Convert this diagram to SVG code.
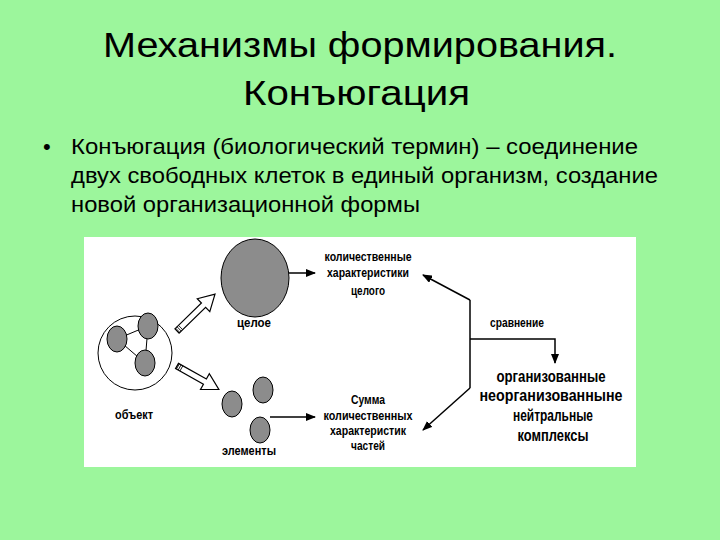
<svg xmlns="http://www.w3.org/2000/svg" width="720" height="540" viewBox="0 0 720 540">
<defs>
<marker id="ah" markerWidth="10" markerHeight="8" refX="9" refY="4" orient="auto" markerUnits="userSpaceOnUse">
<path d="M0,0 L10,4 L0,8 z" fill="#000"/>
</marker>
<style>
.t{font-family:"Liberation Sans",Arial,sans-serif;fill:#000}
.title{font-size:35px}
.body{font-size:22px}
.lbl{font-size:12.5px;font-weight:bold;text-anchor:middle}
.big{font-size:16.5px;font-weight:bold;text-anchor:middle}
.cell{fill:#8c8c8c;stroke:#000;stroke-width:1}
.ln{stroke:#000;stroke-width:1.5;fill:none}
.hol{fill:#fff;stroke:#000;stroke-width:1.2}
</style>
</defs>
<rect x="0" y="0" width="720" height="540" fill="#9cf69c"/>
<g id="title">
<text class="t title" x="103" y="57" textLength="514" lengthAdjust="spacingAndGlyphs">Механизмы формирования.</text>
<text class="t title" x="243" y="105" textLength="227" lengthAdjust="spacingAndGlyphs">Конъюгация</text>
</g>
<g id="bullet">
<text class="t body" x="43" y="154">•</text>
<text class="t body" x="71" y="154" textLength="567" lengthAdjust="spacingAndGlyphs">Конъюгация (биологический термин) – соединение</text>
<text class="t body" x="71" y="183" textLength="587" lengthAdjust="spacingAndGlyphs">двух свободных клеток в единый организм, создание</text>
<text class="t body" x="71" y="212" textLength="349" lengthAdjust="spacingAndGlyphs">новой организационной формы</text>
</g>
<rect x="84" y="237" width="552" height="230" fill="#fff"/>
<g id="obj">
<ellipse cx="135" cy="353" rx="37" ry="37" fill="#fff" stroke="#000" stroke-width="1"/>
<line x1="117" y1="339" x2="148" y2="326" stroke="#000"/>
<line x1="117" y1="339" x2="145" y2="363" stroke="#000"/>
<line x1="148" y1="326" x2="145" y2="363" stroke="#000"/>
<ellipse class="cell" cx="117" cy="339" rx="10" ry="13"/>
<ellipse class="cell" cx="148" cy="326" rx="10" ry="13"/>
<ellipse class="cell" cx="145" cy="363" rx="10" ry="13"/>
<text class="t lbl" x="134" y="419" textLength="38" lengthAdjust="spacingAndGlyphs">объект</text>
</g>
<g id="whole">
<ellipse class="cell" cx="255" cy="278" rx="34" ry="39"/>
<text class="t lbl" x="254" y="327" textLength="34" lengthAdjust="spacingAndGlyphs">целое</text>
</g>
<g id="elements">
<ellipse class="cell" cx="232" cy="404" rx="10" ry="13"/>
<ellipse class="cell" cx="263" cy="390" rx="10" ry="13"/>
<ellipse class="cell" cx="260" cy="430" rx="10" ry="13"/>
<text class="t lbl" x="249" y="455" textLength="54" lengthAdjust="spacingAndGlyphs">элементы</text>
</g>
<g id="qwhole">
<text class="t lbl" x="368" y="261" textLength="87" lengthAdjust="spacingAndGlyphs">количественные</text>
<text class="t lbl" x="368" y="277" textLength="82" lengthAdjust="spacingAndGlyphs">характеристики</text>
<text class="t lbl" x="368" y="295" textLength="34" lengthAdjust="spacingAndGlyphs">целого</text>
</g>
<g id="qsum">
<text class="t lbl" x="368" y="404" textLength="34" lengthAdjust="spacingAndGlyphs">Сумма</text>
<text class="t lbl" x="368" y="420" textLength="89" lengthAdjust="spacingAndGlyphs">количественных</text>
<text class="t lbl" x="368" y="435" textLength="76" lengthAdjust="spacingAndGlyphs">характеристик</text>
<text class="t lbl" x="368" y="450" textLength="34" lengthAdjust="spacingAndGlyphs">частей</text>
</g>
<g id="compare">
<text class="t lbl" x="517" y="327" textLength="54" lengthAdjust="spacingAndGlyphs">сравнение</text>
</g>
<g id="result">
<text class="t big" x="551" y="382" textLength="109" lengthAdjust="spacingAndGlyphs">организованные</text>
<text class="t big" x="551" y="401" textLength="143" lengthAdjust="spacingAndGlyphs">неорганизованныне</text>
<text class="t big" x="553" y="421" textLength="80" lengthAdjust="spacingAndGlyphs">нейтральные</text>
<text class="t big" x="553" y="441" textLength="71" lengthAdjust="spacingAndGlyphs">комплексы</text>
</g>
<g id="connectors">
<g transform="translate(177,331) rotate(-44.2)">
<polygon class="hol" points="0,-3 37,-3 37,-9 53,0 37,9 37,3 0,3"/>
<path d="M1,-3 L1,3 M3,-3 L3,3 M5,-3 L5,3" stroke="#000" stroke-width="0.8"/>
</g>
<g transform="translate(177,366) rotate(29.3)">
<polygon class="hol" points="0,-3 32,-3 32,-9 48,0 32,9 32,3 0,3"/>
<path d="M1,-3 L1,3 M3,-3 L3,3 M5,-3 L5,3" stroke="#000" stroke-width="0.8"/>
</g>
<line class="ln" x1="289" y1="273" x2="315" y2="273" marker-end="url(#ah)"/>
<line class="ln" x1="270" y1="417" x2="315" y2="417" marker-end="url(#ah)"/>
<polyline class="ln" points="470,300 470,388"/>
<line class="ln" x1="470" y1="300" x2="423" y2="275" marker-end="url(#ah)"/>
<line class="ln" x1="470" y1="388" x2="423" y2="430" marker-end="url(#ah)"/>
<polyline class="ln" points="470,339 555,339 555,363" marker-end="url(#ah)"/>
</g>
</svg>
